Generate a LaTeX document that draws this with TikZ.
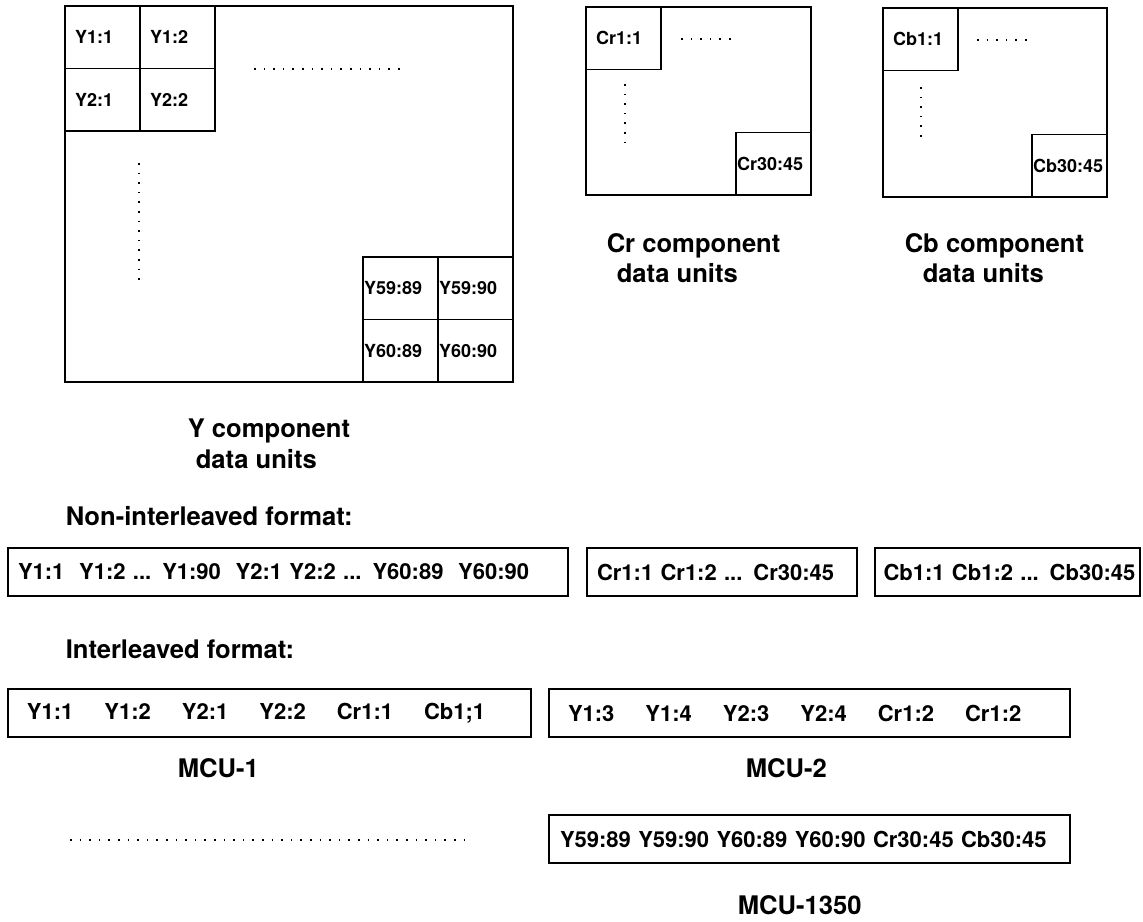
\documentclass[tikz,border=0pt]{standalone}
\usepackage{fontspec}
\setmainfont{TeX Gyre Heros}
\usepackage{tikz}
\usetikzlibrary{positioning}

\newcommand{\itemgap}{\hspace{31pt}}
\tikzset{
	frame/.style={draw,outer sep=0pt,inner sep=0pt},
	cell/.style={draw,outer sep=0pt,inner ysep=1pt,inner xsep=10pt,text width=55pt,align=left,minimum width=75pt,minimum height=62.5pt,font=\fontsize{18}{20}\selectfont\bfseries},
	wide/.style={inner xsep=1pt,text width=73pt},
	strip/.style={draw,outer sep=0pt,anchor=west,align=left,inner xsep=10pt,minimum height=48pt,text width=#1,font=\fontsize{22}{24}\selectfont\bfseries},
	caption/.style={anchor=base west,inner sep=0pt,font=\fontsize{25.6}{29}\selectfont\bfseries},
	dots/.style={line width=1.6pt,dash pattern=on 1.6pt off 8pt}
}

\begin{document}
\begin{tikzpicture}[x=1pt,y=-1pt,line width=1.5pt]
	\useasboundingbox (0,0) rectangle (1143,921);
	% component planes
	\node[frame,minimum width=448pt,minimum height=376pt] (ybox) at (289,194) {};
	\node[cell,anchor=north west] (y11) at (ybox.north west) {Y1:1};
	\node[cell,right=0pt of y11] (y12) {Y1:2};
	\node[cell,below=0pt of y11] (y21) {Y2:1};
	\node[cell,right=0pt of y21] (y22) {Y2:2};
	\node[cell,wide,anchor=south east] (y6090) at (ybox.south east) {Y60:90};
	\node[cell,wide,left=0pt of y6090] (y6089) {Y60:89};
	\node[cell,wide,above=0pt of y6090] (y5990) {Y59:90};
	\node[cell,wide,left=0pt of y5990] (y5989) {Y59:89};
	\draw[dots] (254,69) -- (400,69);
	\draw[dots] (139,163) -- (139,286);
	\node[frame,minimum width=225pt,minimum height=188pt] (crbox) at (698.5,101) {};
	\node[cell,anchor=north west] (cr11) at (crbox.north west) {Cr1:1};
	\node[cell,wide,anchor=south east] (cr3045) at (crbox.south east) {Cr30:45};
	\draw[dots] (681,39) -- (736,39);
	\draw[dots] (625,84) -- (625,147);
	\node[frame,minimum width=224pt,minimum height=189pt] (cbbox) at (995,102.5) {};
	\node[cell,anchor=north west] (cb11) at (cbbox.north west) {Cb1:1};
	\node[cell,wide,anchor=south east] (cb3045) at (cbbox.south east) {Cb30:45};
	\draw[dots] (977,40) -- (1033,40);
	\draw[dots] (921,87) -- (921,140);
	\node[caption] (ycapa) at (187,437) {Y component};
	\node[caption] (ycapb) at (195,468) {data units};
	\node[caption] (crcapa) at (606,252) {Cr component};
	\node[caption] (crcapb) at (616,282) {data units};
	\node[caption] (cbcapa) at (904,252) {Cb component};
	\node[caption] (cbcapb) at (922,282) {data units};
	% non-interleaved
	\node[caption] (nonint) at (65,525) {Non-interleaved format:};
	\node[strip=540pt] (ystream) at (8,572) {Y1:1~ Y1:2 ... Y1:90~ Y2:1 Y2:2 ... Y60:89~ Y60:90};
	\node[strip=250pt] (crstream) at (587,572) {Cr1:1 Cr1:2 ... Cr30:45};
	\node[strip=256pt,inner xsep=4.5pt] (cbstream) at (875,572) {\hspace*{4pt}Cb1:1 Cb1:2 ... Cb30:45};
	% interleaved
	\node[caption] (inter) at (65,658) {Interleaved format:};
	\node[strip=485pt,inner xsep=19pt] (mcua) at (8,713) {Y1:1\itemgap Y1:2\itemgap Y2:1\itemgap Y2:2\itemgap Cr1:1\itemgap Cb1;1};
	\node[strip=483pt,inner xsep=19pt] (mcub) at (549,713) {Y1:3\itemgap Y1:4\itemgap Y2:3\itemgap Y2:4\itemgap Cr1:2\itemgap Cr1:2};
	\node[caption] (mcualab) at (177,777) {MCU-1};
	\node[caption] (mcublab) at (745,777) {MCU-2};
	\draw[dots] (70,840) -- (473,840);
	\node[strip=499pt,inner xsep=11pt] (mcuz) at (549,839) {Y59:89 Y59:90 Y60:89 Y60:90 Cr30:45 Cb30:45};
	\node[caption] (mcuzlab) at (737,914) {MCU-1350};
\end{tikzpicture}
\end{document}
